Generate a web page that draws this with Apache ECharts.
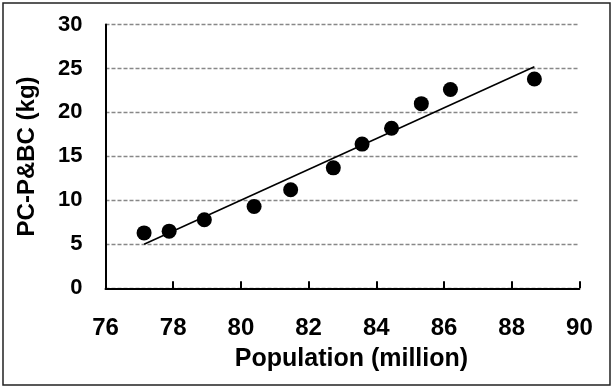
<!DOCTYPE html>
<html>
<head>
<meta charset="utf-8">
<script src="https://cdn.jsdelivr.net/npm/echarts@6/dist/echarts.min.js"></script>
<style>
html,body{margin:0;padding:0;background:#fff;}
#chart{width:614px;height:388px;}
</style>
</head>
<body>
<div id="chart"></div>
<script>
// Data
var population = [77.14, 77.88, 78.92, 80.39, 81.47, 82.73, 83.58, 84.45, 85.33, 86.19, 88.67];
var pcpbc = [6.3, 6.5, 7.8, 9.3, 11.2, 13.7, 16.4, 18.2, 21.0, 22.6, 23.8];
var trendX = [77.14, 88.67];
var trendY = [5.0, 25.2];
var xTicks = [76, 78, 80, 82, 84, 86, 88, 90];
var yTicks = [0, 5, 10, 15, 20, 25, 30];

var FONT = '"Liberation Sans", Arial, sans-serif';
var points = population.map(function (x, i) { return [x, pcpbc[i]]; });
var trend = trendX.map(function (x, i) { return [x, trendY[i]]; });

var chart = echarts.init(document.getElementById('chart'), null, {renderer: 'canvas'});
chart.setOption({
  animation: false,
  backgroundColor: '#fff',
  graphic: [{
    type: 'rect',
    shape: {x: 3, y: 3, width: 607, height: 382},
    style: {fill: 'none', stroke: '#222', lineWidth: 1.5},
    silent: true
  }],
  grid: {left: 105.5, right: 34.6, top: 24.5, bottom: 99.7, containLabel: false},
  xAxis: {
    type: 'value',
    min: xTicks[0], max: xTicks[xTicks.length - 1], interval: 2,
    name: 'Population (million)',
    nameLocation: 'middle',
    nameGap: 58,
    nameTextStyle: {fontFamily: FONT, fontWeight: 'bold', fontSize: 25, color: '#000', padding: [0, 0, 0, 18]},
    axisLine: {show: true, lineStyle: {color: '#000', width: 2}},
    axisTick: {show: true, inside: true, length: 7, lineStyle: {color: '#000', width: 2}},
    axisLabel: {fontFamily: FONT, fontWeight: 'bold', fontSize: 24, color: '#000', margin: 28},
    splitLine: {show: false}
  },
  yAxis: {
    type: 'value',
    min: yTicks[0], max: yTicks[yTicks.length - 1], interval: 5,
    name: 'PC-P&BC (kg)',
    nameLocation: 'middle',
    nameRotate: 90,
    nameGap: 66,
    nameTextStyle: {fontFamily: FONT, fontWeight: 'bold', fontSize: 24, color: '#000'},
    axisLine: {show: true, lineStyle: {color: '#000', width: 2}},
    axisTick: {show: false},
    axisLabel: {fontFamily: FONT, fontWeight: 'bold', fontSize: 22, color: '#000', margin: 23},
    splitLine: {show: true, lineStyle: {color: '#888', width: 1.3, type: [4, 2]}}
  },
  series: [
    {
      type: 'line',
      data: trend,
      showSymbol: false,
      symbol: 'none',
      lineStyle: {color: '#000', width: 1.6},
      z: 2
    },
    {
      type: 'scatter',
      data: points,
      symbol: 'circle',
      symbolSize: 15,
      itemStyle: {color: '#000', opacity: 1},
      z: 3
    }
  ]
});
</script>
</body>
</html>
